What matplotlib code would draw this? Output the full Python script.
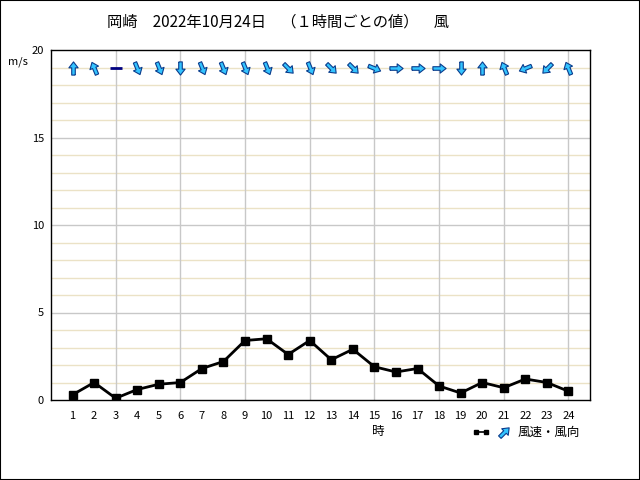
import numpy as np
import matplotlib
matplotlib.use('Agg')
import matplotlib.pyplot as plt
from matplotlib.patches import Rectangle

plt.rcParams['font.family'] = ['Noto Sans CJK JP', 'DejaVu Sans']

# 1時間ごとの風速 (m/s) と風向 (矢印の向き、度: 0=右, 90=上), None = 静穏
hours = list(range(1, 25))
speed = [0.3, 1.0, 0.1, 0.6, 0.9, 1.0, 1.8, 2.2, 3.4, 3.5, 2.6, 3.4,
         2.3, 2.9, 1.9, 1.6, 1.8, 0.8, 0.4, 1.0, 0.7, 1.2, 1.0, 0.5]
arrow_deg = [90, 112.5, None, -67.5, -67.5, -90, -67.5, -67.5, -67.5, -67.5, -45, -67.5,
             -45, -45, -22.5, 0, 0, 0, -90, 90, 112.5, 202.5, 225, 112.5]

title = '岡崎　2022年10月24日　（１時間ごとの値）　風'

# 矢印の形 (右向き)
arrow_shape = np.array([[-1.0, -0.27], [0.1, -0.27], [0.1, -0.7], [1.0, 0.0],
                        [0.1, 0.7], [0.1, 0.27], [-1.0, 0.27], [-1.0, -0.27]])

def arrow_marker(deg):
    a = np.deg2rad(deg)
    rot = np.array([[np.cos(a), -np.sin(a)], [np.sin(a), np.cos(a)]])
    v = arrow_shape @ rot.T
    # matplotlib scales by max |coord|, so return the size factor too
    return v, np.abs(v).max()

def draw_arrow(a, x, y, deg, size=9.5):
    v, k = arrow_marker(deg)
    a.plot(x, y, marker=v, markersize=size * k, mfc='#33c4ff', mec='#0a3c8c',
           mew=0.8, linestyle='none', zorder=4)

fig = plt.figure(figsize=(6.4, 4.8), dpi=100)
ax = fig.add_axes([51 / 640, 1 - 400 / 480, 539 / 640, 350 / 480])

ax.set_xlim(0, 25)
ax.set_ylim(0, 20)

# グリッド
for v in range(1, 20):
    if v % 5 == 0:
        ax.axhline(v, color='#c8c8c8', lw=1, zorder=1)
    else:
        ax.axhline(v, color='#ebe2c6', lw=1, zorder=1)
for h in range(3, 25, 3):
    ax.axvline(h, color='#c8c8c8', lw=1, zorder=1)

ax.plot(hours, speed, color='black', lw=2, marker='s', markersize=6, zorder=3)

for h, d in zip(hours, arrow_deg):
    if d is None:
        ax.plot(h, 19, marker='_', markersize=8, mew=2, color='#000080', zorder=4)
    else:
        draw_arrow(ax, h, 19, d)

ax.set_xticks(hours)
ax.set_xticklabels([str(h) for h in hours])
ax.set_yticks([0, 5, 10, 15, 20])
ax.tick_params(length=0, labelsize=8, pad=8)
ax.tick_params(axis='y', pad=5)
for s in ax.spines.values():
    s.set_color('black')
    s.set_linewidth(1)

fig.text(278 / 640, 1 - 22 / 480, title, ha='center', va='center', fontsize=11)
fig.text(18 / 640, 1 - 62 / 480, 'm/s', ha='center', va='center', fontsize=8)
fig.text(378 / 640, 1 - 432 / 480, '時', ha='center', va='center', fontsize=9)

# 凡例
fig.lines.append(plt.Line2D([476 / 640, 486 / 640], [1 - 432 / 480] * 2, color='black',
                            lw=1.2, marker='s', markersize=2.5, transform=fig.transFigure))
leg_ax = fig.add_axes([496 / 640, 1 - 440 / 480, 16 / 640, 16 / 480])
leg_ax.set_xlim(-1, 1)
leg_ax.set_ylim(-1, 1)
leg_ax.axis('off')
draw_arrow(leg_ax, 0, 0, 45)
fig.text(518 / 640, 1 - 432 / 480, '風速・風向', ha='left', va='center', fontsize=9)

fig.patches.append(Rectangle((0, 0), 1, 1, transform=fig.transFigure, fill=False,
                             edgecolor='black', lw=1.5))

fig.savefig('out.png', dpi=100)
